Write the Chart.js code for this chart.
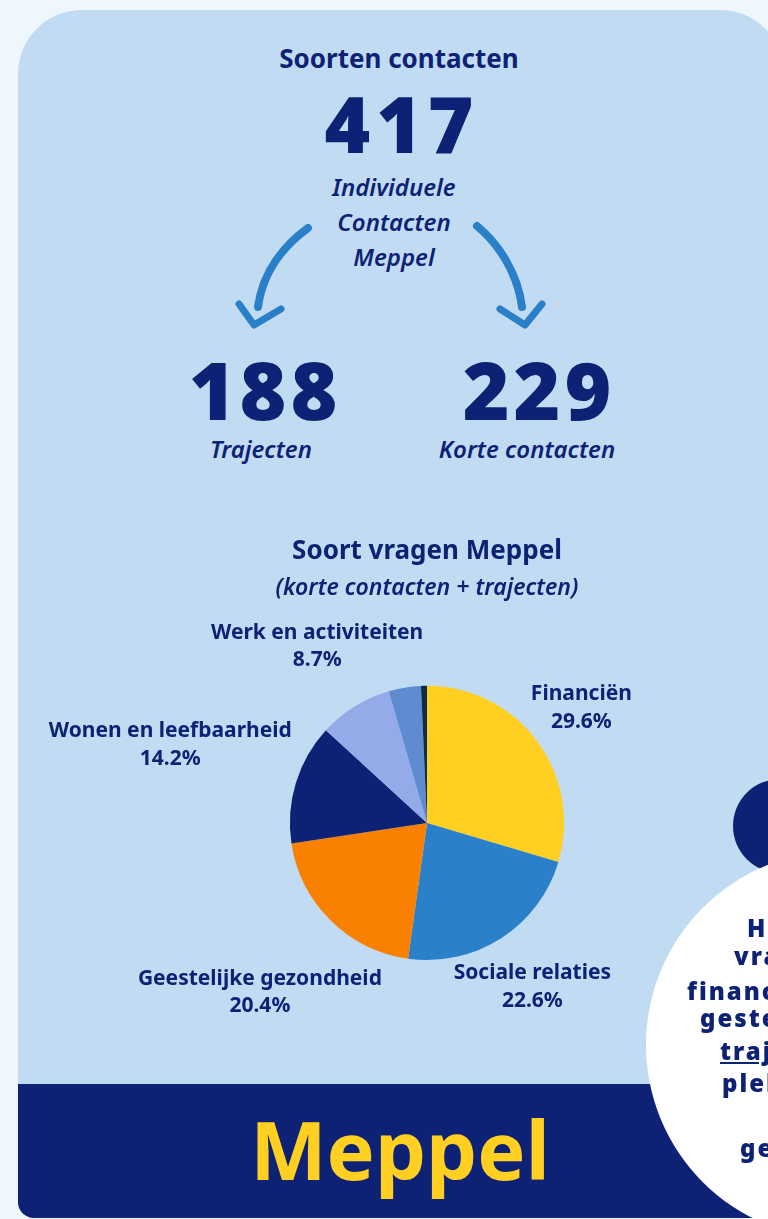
<!DOCTYPE html>
<html>
<head>
<meta charset="utf-8">
<script src="https://cdn.jsdelivr.net/npm/chart.js@4.4.1/dist/chart.umd.min.js"></script>
<style>
  html, body { margin: 0; padding: 0; width: 768px; height: 1219px; overflow: hidden; background: #eef6fe; }
  body { position: relative; font-family: "Noto Sans", "Open Sans", sans-serif; color: #0e2275; }
  #panel { position: absolute; left: 18px; top: 10px; width: 766px; height: 1208px; background: #c1dcf2; border-radius: 64px 64px 16px 16px; overflow: hidden; }
  #band { position: absolute; left: 0; top: 1074px; width: 100%; height: 200px; background: #0e2275; }
  .t { position: absolute; line-height: 1; white-space: nowrap; text-align: center; }
  .b { font-weight: 700; }
  .x { font-weight: 900; }
  .i { font-style: italic; font-weight: 600; }
  #pie { position: absolute; left: 0; top: 520px; }
  #arrows { position: absolute; left: 0; top: 0; }
  .circ { position: absolute; border-radius: 50%; }
  .ct { position: absolute; line-height: 1; white-space: nowrap; font-weight: 900; font-size: 24px; letter-spacing: 2px; }
</style>
</head>
<body>
<div id="panel"><div id="band"></div></div>

<div class="t b" style="left:199px;width:400px;top:45px;font-size:26px;">Soorten contacten</div>
<div class="t x" style="left:199px;width:400px;top:84px;font-size:78px;letter-spacing:6px;text-indent:6px;">417</div>
<div class="t i" style="left:244px;width:300px;top:175px;font-size:24px;">Individuele</div>
<div class="t i" style="left:244px;width:300px;top:210px;font-size:24px;">Contacten</div>
<div class="t i" style="left:244px;width:300px;top:245px;font-size:24px;">Meppel</div>

<svg id="arrows" width="768" height="400">
  <g fill="none" stroke="#2a7fc9" stroke-linecap="round" stroke-linejoin="round">
    <path d="M308 228 C286 244, 263 270, 258 307" stroke-width="8"/>
    <path d="M239 304 L254 325 L281 309" stroke-width="7"/>
    <path d="M477 226 C499 244, 518 274, 522 307" stroke-width="8"/>
    <path d="M500 309 L525 325 L542 304" stroke-width="7"/>
  </g>
</svg>

<div class="t x" style="left:113px;width:300px;top:349px;font-size:80px;letter-spacing:4px;text-indent:4px;">188</div>
<div class="t x" style="left:387px;width:300px;top:349px;font-size:80px;letter-spacing:4px;text-indent:4px;">229</div>
<div class="t i" style="left:111px;width:300px;top:437px;font-size:24px;">Trajecten</div>
<div class="t i" style="left:377px;width:300px;top:437px;font-size:24px;">Korte contacten</div>

<canvas id="pie" width="854" height="560"></canvas>

<div class="circ" style="left:733px;top:779px;width:94px;height:94px;background:#0e2275;"></div>
<div class="circ" style="left:646px;top:851px;width:388px;height:388px;background:#ffffff;"></div>
<div class="ct" style="left:747px;top:916px;">Het</div>
<div class="ct" style="left:734px;top:944px;">vragen</div>
<div class="ct" style="left:687px;top:979px;">financiën</div>
<div class="ct" style="left:700px;top:1006px;">gesteld</div>
<div class="ct" style="left:720px;top:1039px;text-decoration:underline;">trajecten</div>
<div class="ct" style="left:722px;top:1071px;">plek</div>
<div class="ct" style="left:740px;top:1136px;">gemeente</div>

<div class="t b" style="left:200px;width:400px;top:1108px;font-size:81px;color:#ffd022;">Meppel</div>

<script>
const categories = [
  "Financiën",
  "Sociale relaties",
  "Geestelijke gezondheid",
  "Wonen en leefbaarheid",
  "Werk en activiteiten",
  "Overig",
  "Onbekend"
];
const shares = [29.6, 22.6, 20.4, 14.2, 8.7, 3.8, 0.7];
const sliceColors = ["#ffd022", "#2a80c9", "#f98000", "#0e2275", "#95aae8", "#5f8bd0", "#0b2e45"];
const labelled = [true, true, true, true, true, false, false];

const navy = "#0e2275";

// labels outside the pie, pushed out along the slice's middle angle
const outsideLabels = {
  id: "outsideLabels",
  afterDatasetsDraw(chart) {
    const ctx = chart.ctx;
    const arcs = chart.getDatasetMeta(0).data;
    ctx.save();
    ctx.font = "700 21px 'Noto Sans', sans-serif";
    ctx.fillStyle = navy;
    ctx.textAlign = "center";
    ctx.textBaseline = "middle";
    arcs.forEach((arc, i) => {
      if (!labelled[i]) return;
      const p = arc.getProps(["x", "y", "startAngle", "endAngle", "outerRadius"], true);
      const a = (p.startAngle + p.endAngle) / 2;
      const pct = shares[i].toFixed(1) + "%";
      const w = Math.max(ctx.measureText(categories[i]).width, ctx.measureText(pct).width) / 2;
      const d = p.outerRadius + 15 + Math.abs(Math.cos(a)) * w;
      const lx = p.x + Math.cos(a) * d;
      const ly = p.y + Math.sin(a) * d;
      ctx.fillText(categories[i], lx, ly - 13.5);
      ctx.fillText(pct, lx, ly + 14);
    });
    ctx.restore();
  }
};

new Chart(document.getElementById("pie"), {
  type: "pie",
  data: {
    labels: categories,
    datasets: [{ data: shares, backgroundColor: sliceColors, borderWidth: 0, hoverOffset: 0 }]
  },
  options: {
    responsive: false,
    animation: false,
    layout: { padding: { bottom: 120 } },
    plugins: {
      legend: { display: false },
      tooltip: { enabled: false },
      title: {
        display: true,
        text: "Soort vragen Meppel",
        color: navy,
        font: { family: "'Noto Sans', sans-serif", size: 26, weight: "700", lineHeight: 1.2 },
        padding: { top: 16, bottom: 0 }
      },
      subtitle: {
        display: true,
        text: "(korte contacten + trajecten)",
        color: navy,
        font: { family: "'Noto Sans', sans-serif", size: 23, weight: "600", style: "italic", lineHeight: 1.2 },
        padding: { top: 7, bottom: 84 }
      }
    }
  },
  plugins: [outsideLabels]
});
</script>
</body>
</html>
